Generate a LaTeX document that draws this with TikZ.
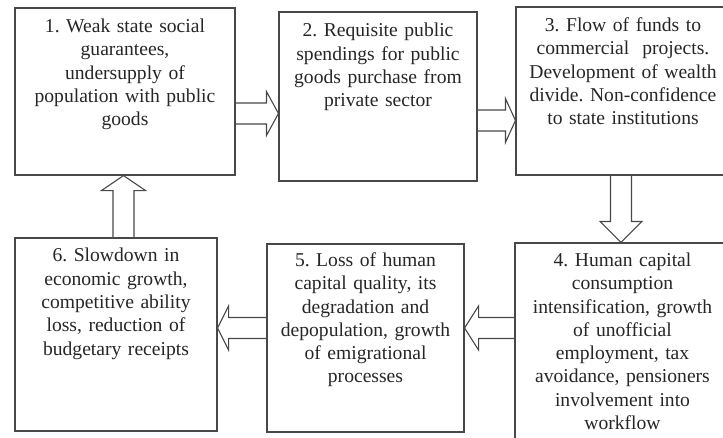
\documentclass[tikz,border=0pt]{standalone}
\usepackage{fontspec}
\setmainfont{Liberation Serif}
\newfontfamily\boxfont{Liberation Serif}
\usetikzlibrary{calc}
\definecolor{linegray}{RGB}{72,72,72}
\definecolor{textgray}{RGB}{38,38,38}
\newcommand{\shaftw}{10.5pt}
\newcommand{\headw}{22pt}
\newcommand{\headl}{12pt}

\begin{document}
\frenchspacing
\begin{tikzpicture}[x=1pt,y=-1pt,
    box/.style={draw=linegray, line width=1.1pt, rectangle, inner sep=0pt},
    txt/.style={anchor=base, text=textgray, align=center, text width=205pt, inner sep=0pt,
        font={\boxfont\fontsize{19.6}{23.3}\selectfont}},
    hlen/.code={\renewcommand{\headl}{#1}},
    hwid/.code={\renewcommand{\headw}{#1}},
    blockarrow/.style={draw=linegray, line width=1.1pt, line join=miter, to path={
        ($(\tikztostart)!\shaftw!90:(\tikztotarget)$)
        -- ($($(\tikztotarget)!\headl!(\tikztostart)$)!\shaftw!90:(\tikztotarget)$)
        -- ($($(\tikztotarget)!\headl!(\tikztostart)$)!\headw!90:(\tikztotarget)$)
        -- (\tikztotarget)
        -- ($($(\tikztotarget)!\headl!(\tikztostart)$)!\headw!-90:(\tikztotarget)$)
        -- ($($(\tikztotarget)!\headl!(\tikztostart)$)!\shaftw!-90:(\tikztotarget)$)
        -- ($(\tikztostart)!\shaftw!-90:(\tikztotarget)$)}}]

    \useasboundingbox (0,0) rectangle (723,437);
    \clip (0,0) rectangle (723,437);

    % boxes
    \node[box, minimum width=220pt, minimum height=167pt] (b1) at (125,91.5) {};
    \node[box, minimum width=198pt, minimum height=169pt] (b2) at (378,96.5) {};
    \node[box, minimum width=214pt, minimum height=168pt] (b3) at (623,91) {};
    \node[box, minimum width=215pt, minimum height=207pt] (b4) at (622.5,346.5) {};
    \node[box, minimum width=197pt, minimum height=188pt] (b5) at (365.5,338) {};
    \node[box, minimum width=202pt, minimum height=193pt] (b6) at (116,334.5) {};

    % texts
    \node[txt] (t1) at ([yshift=-25pt]b1.north) {1. Weak state social\\guarantees,\\undersupply of\\population with public\\goods};
    \node[txt] (t2) at ([yshift=-25.5pt]b2.north) {2. Requisite public\\spendings for public\\goods purchase from\\private sector};
    \node[txt] (t3) at ([yshift=-25pt]b3.north) {3. Flow of funds to\\commercial\ \ projects.\\Development of wealth\\divide. Non-confidence\\to state institutions};
    \node[txt] (t4) at ([yshift=-24pt]b4.north) {4. Human capital\\consumption\\intensification, growth\\of unofficial\\employment, tax\\avoidance, pensioners\\involvement into\\workflow};
    \node[txt] (t5) at ([yshift=-23pt]b5.north) {5. Loss of human\\capital quality, its\\degradation and\\depopulation, growth\\of emigrational\\processes};
    \node[txt] (t6) at ([yshift=-24.5pt]b6.north) {6. Slowdown in\\economic growth,\\competitive ability\\loss, reduction of\\budgetary receipts};

    % block arrows
    \draw[blockarrow, hlen=12pt] (b1.east |- 0,113.5) to (b2.west |- 0,113.5);
    \draw[blockarrow, hlen=10pt] (b2.east |- 0,120.5) to (b3.west |- 0,120.5);
    \draw[blockarrow, hlen=21pt, hwid=21pt] (b3.south -| 621,0) to (b4.north -| 621,0);
    \draw[blockarrow, hlen=14pt] (b4.west |- 0,328) to (b5.east |- 0,328);
    \draw[blockarrow, hlen=11pt] (b5.west |- 0,328) to (b6.east |- 0,328);
    \draw[blockarrow, hlen=15pt] (b6.north -| 123.5,0) to (b1.south -| 123.5,0);
\end{tikzpicture}
\end{document}
